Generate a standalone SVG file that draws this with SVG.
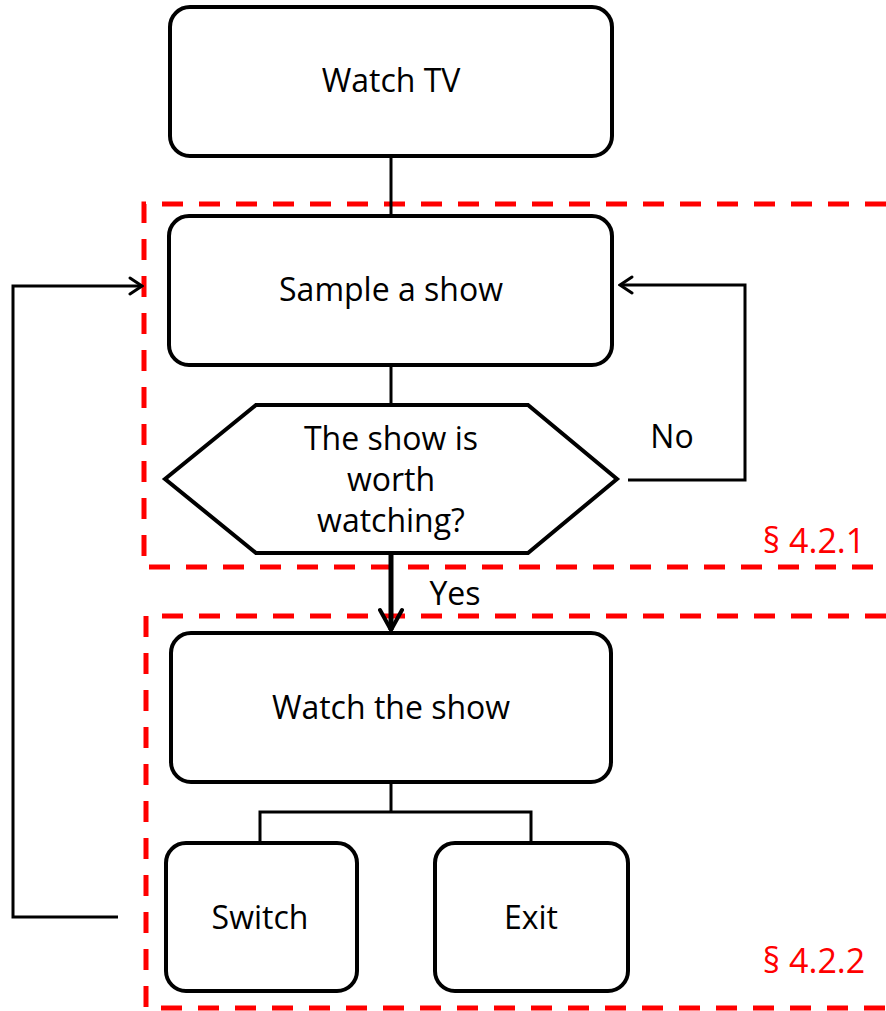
<svg xmlns="http://www.w3.org/2000/svg" width="886" height="1011" viewBox="0 0 886 1011">
<defs>
<style>
.box{fill:#fff;stroke:#000;stroke-width:4}
.t{font-family:"Open Sans",Lato,sans-serif;font-size:32px;fill:#000;text-anchor:middle}
.r{font-family:"Open Sans",Lato,sans-serif;font-size:34px;fill:#f00;text-anchor:middle}
.c{fill:none;stroke:#000;stroke-width:3}
.dash{fill:none;stroke:#f00;stroke-width:5;stroke-dasharray:21 16}
</style>
<marker id="ah" viewBox="0 0 20 20" refX="18" refY="10" markerWidth="20" markerHeight="20" markerUnits="userSpaceOnUse" orient="auto">
<path d="M6,2 L18,10 L6,18" fill="none" stroke="#000" stroke-width="3" stroke-linecap="round"/>
</marker>
<marker id="ah2" viewBox="0 0 26 26" refX="24" refY="13" markerWidth="26" markerHeight="26" markerUnits="userSpaceOnUse" orient="auto">
<path d="M4,2 L24,13 L4,24" fill="none" stroke="#000" stroke-width="4" stroke-linecap="round"/>
</marker>
</defs>
<rect width="886" height="1011" fill="#fff"/>
<g id="regions">
<path class="dash" d="M886,204 H144 V567 H886"/>
<path class="dash" d="M886,616 H146 V1008 H886"/>
<text class="r" x="814" y="553">§ 4.2.1</text>
<text class="r" x="814" y="973">§ 4.2.2</text>
</g>
<g id="connectors">
<line class="c" x1="391" y1="156" x2="391" y2="216"/>
<line class="c" x1="391" y1="365" x2="391" y2="405"/>
<line x1="391" y1="553" x2="391" y2="630" stroke="#000" stroke-width="5" marker-end="url(#ah2)"/>
<polyline class="c" points="628,480 745,480 745,285 620,285" marker-end="url(#ah)"/>
<polyline class="c" points="118,917 13,917 13,286 142,286" marker-end="url(#ah)"/>
<polyline class="c" points="391,782 391,812"/>
<polyline class="c" points="260,843 260,812 531,812 531,843"/>
<text class="t" x="672" y="448">No</text>
<text class="t" x="455" y="605">Yes</text>
</g>
<g id="watch-tv">
<rect class="box" x="170" y="7" width="442" height="149" rx="20"/>
<text class="t" x="391" y="92">Watch TV</text>
</g>
<g id="sample-show">
<rect class="box" x="169" y="216" width="443" height="149" rx="20"/>
<text class="t" x="391" y="301">Sample a show</text>
</g>
<g id="decision">
<polygon class="box" points="165,479 256,405 528,405 617,479 528,553 256,553"/>
<text class="t" x="391" y="450">The show is</text>
<text class="t" x="391" y="491">worth</text>
<text class="t" x="391" y="532">watching?</text>
</g>
<g id="watch-show">
<rect class="box" x="171" y="633" width="440" height="149" rx="20"/>
<text class="t" x="391" y="719">Watch the show</text>
</g>
<g id="switch">
<rect class="box" x="166" y="843" width="191" height="148" rx="20"/>
<text class="t" x="260" y="929">Switch</text>
</g>
<g id="exit">
<rect class="box" x="435" y="843" width="193" height="148" rx="20"/>
<text class="t" x="531" y="929">Exit</text>
</g>
</svg>
